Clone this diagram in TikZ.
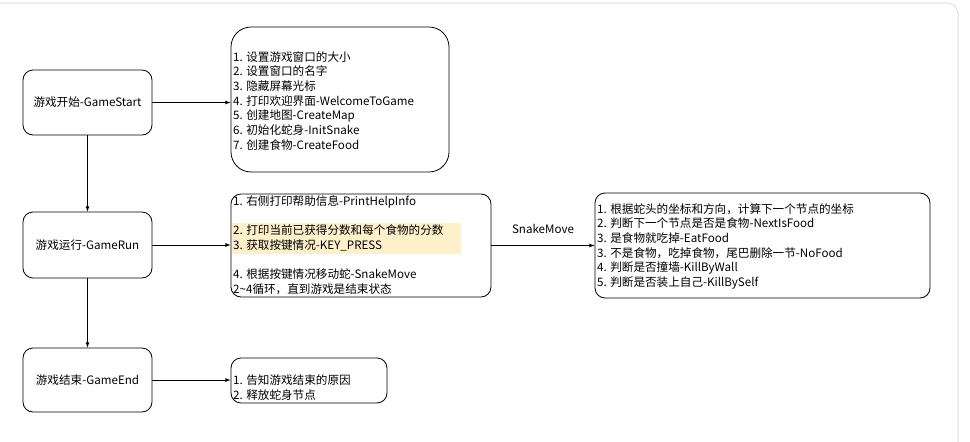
\documentclass[tikz,border=0pt]{standalone}
\usepackage{fontspec}
\setmainfont{Noto Sans CJK SC}
\definecolor{hl}{HTML}{FFF0CC}
\begin{document}
\begin{tikzpicture}[x=1pt,y=-1pt,
  box/.style={draw,rounded corners=10pt,line width=0.8pt},
  bigbox/.style={draw,rounded corners=20pt,line width=0.8pt},
  txt/.style={anchor=north west,inner sep=0pt,align=left,font=\fontsize{11.6}{14.7}\selectfont},
  arr/.style={-latex,line width=0.8pt},
  lab/.style={font=\fontsize{11.6}{13}\selectfont}]
\useasboundingbox (0,0) rectangle (970,442);
\draw[gray!25,rounded corners=6pt,line width=1pt] (-10,3) -- (952,3) -- (958,9) -- (958,450);
% left nodes
\node[box,minimum width=129,minimum height=65,lab] (start) at (87.5,102.5) {游戏开始-GameStart};
\node[box,minimum width=129,minimum height=66,lab] (run) at (87.5,245) {游戏运行-GameRun};
\node[box,minimum width=129,minimum height=64,lab] (end) at (87.5,380) {游戏结束-GameEnd};
% box1
\node[bigbox,minimum width=218,minimum height=145] (b1) at (340,99.5) {};
\node[txt] (t1) at (233,51) {1. 设置游戏窗口的大小\\2. 设置窗口的名字\\3. 隐藏屏幕光标\\4. 打印欢迎界面-WelcomeToGame\\5. 创建地图-CreateMap\\6. 初始化蛇身-InitSnake\\7. 创建食物-CreateFood};
% box2
\node[box,minimum width=260,minimum height=103] (b2) at (361,245.5) {};
\fill[hl] (232,223) rectangle (461,254);
\node[txt] (t2) at (233,195) {1. 右侧打印帮助信息-PrintHelpInfo\\[14.7pt]2. 打印当前已获得分数和每个食物的分数\\3. 获取按键情况-KEY\_PRESS\\[14.7pt]4. 根据按键情况移动蛇-SnakeMove\\2\textasciitilde4循环，直到游戏是结束状态};
% box3
\node[box,minimum width=335,minimum height=105] (b3) at (762.5,245.5) {};
\node[txt] (t3) at (597,203) {1. 根据蛇头的坐标和方向，计算下一个节点的坐标\\2. 判断下一个节点是否是食物-NextIsFood\\3. 是食物就吃掉-EatFood\\3. 不是食物，吃掉食物，尾巴删除一节-NoFood\\4. 判断是否撞墙-KillByWall\\5. 判断是否装上自己-KillBySelf};
% box4
\node[box,minimum width=156,minimum height=45] (b4) at (309,380.5) {};
\node[txt] (t4) at (233,375) {1. 告知游戏结束的原因\\2. 释放蛇身节点};
% arrows
\draw[arr] (start.east) -- (start.east -| b1.west);
\draw[arr] (start) -- (run);
\draw[arr] (run) -- (end);
\draw[arr] (run.east) -- (run.east -| b2.west);
\draw[arr] (b2.east) -- node[lab,above=8pt] {SnakeMove} (b3.west);
\draw[arr] (end.east) -- (end.east -| b4.west);
\end{tikzpicture}
\end{document}
